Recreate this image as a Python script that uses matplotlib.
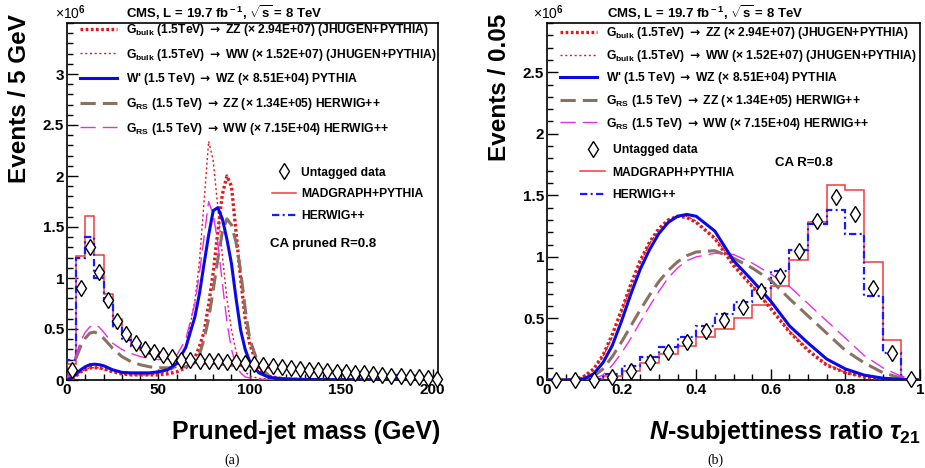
import matplotlib
matplotlib.use("Agg")
import matplotlib.pyplot as plt
from matplotlib.ticker import MultipleLocator, FormatStrFormatter
import numpy as np

plt.rcParams['font.family'] = ['Liberation Sans', 'DejaVu Sans']
plt.rcParams['font.weight'] = 'bold'
plt.rcParams['mathtext.fontset'] = 'custom'
plt.rcParams['mathtext.rm'] = 'Liberation Sans:bold'
plt.rcParams['mathtext.it'] = 'Liberation Sans:italic:bold'
plt.rcParams['mathtext.bf'] = 'Liberation Sans:bold'
plt.rcParams['mathtext.sf'] = 'DejaVu Sans:bold'

# ---- (a) pruned jet mass, 5 GeV bins, units of 1e6 events ----
mass_edges = np.arange(0, 206, 5)
mass_centres = mass_edges[:-1] + 2.5
mass_data = [0.098, 0.905, 1.30, 1.06, 0.78, 0.58, 0.45, 0.366, 0.304, 0.27, 0.25, 0.23,
             0.20, 0.196, 0.19, 0.186, 0.184, 0.18, 0.173, 0.163, 0.157, 0.147, 0.137,
             0.124, 0.114, 0.108, 0.10, 0.095, 0.088, 0.082, 0.075, 0.072, 0.065, 0.056,
             0.052, 0.042, 0.039, 0.029, 0.026, 0.02, 0.013]
mass_madgraph = [0.157, 1.216, 1.61, 1.23, 0.843, 0.595, 0.44, 0.343, 0.29, 0.255, 0.23,
                 0.21, 0.19, 0.175, 0.165, 0.158, 0.152, 0.146, 0.14, 0.134, 0.128, 0.122,
                 0.116, 0.11, 0.104, 0.098, 0.092, 0.087, 0.081, 0.076, 0.071, 0.066,
                 0.061, 0.056, 0.051, 0.046, 0.041, 0.036, 0.031, 0.026, 0.02]
mass_herwig = [0.2, 1.2, 1.40, 1.0, 0.77, 0.51, 0.39, 0.33, 0.29, 0.26, 0.24, 0.22, 0.20,
               0.19, 0.185, 0.18, 0.175, 0.17, 0.165, 0.16, 0.152, 0.144, 0.135, 0.126,
               0.117, 0.109, 0.101, 0.094, 0.087, 0.08, 0.074, 0.068, 0.062, 0.056, 0.05,
               0.045, 0.04, 0.035, 0.03, 0.025, 0.02]

mass_x = [0, 2.5, 5, 7.5, 10, 12.5, 15, 17.5, 20, 25, 30, 35, 40, 45, 50, 55, 60, 65, 70,
          72.5, 75, 77.5, 80, 82.5, 85, 87.5, 90, 92.5, 95, 97.5, 100, 105, 110, 115, 120,
          130, 140, 150, 160, 170, 180, 190, 200]
mass_bulk_zz = [0.0, 0.01, 0.04, 0.08, 0.10, 0.12, 0.12, 0.12, 0.11, 0.08, 0.06, 0.05, 0.05,
                0.05, 0.05, 0.06, 0.08, 0.12, 0.22, 0.33, 0.47, 0.74, 1.05, 1.45, 1.82, 2.0,
                1.90, 1.45, 0.99, 0.60, 0.35, 0.10, 0.04, 0.02, 0.01, 0.005, 0.004, 0.003,
                0.003, 0.002, 0.002, 0.002, 0.002]
mass_bulk_ww = [0.0, 0.01, 0.04, 0.08, 0.10, 0.12, 0.12, 0.12, 0.11, 0.08, 0.06, 0.05, 0.05,
                0.05, 0.06, 0.08, 0.13, 0.32, 0.78, 1.17, 1.75, 2.34, 2.15, 1.70, 1.22, 0.80,
                0.49, 0.28, 0.15, 0.08, 0.04, 0.015, 0.01, 0.005, 0.004, 0.003, 0.003,
                0.002, 0.002, 0.002, 0.002, 0.002, 0.002]
mass_wprime = [0.0, 0.02, 0.06, 0.10, 0.13, 0.15, 0.155, 0.15, 0.14, 0.10, 0.075, 0.07, 0.07,
               0.07, 0.08, 0.10, 0.16, 0.32, 0.62, 0.85, 1.14, 1.42, 1.66, 1.69, 1.58, 1.38,
               1.14, 0.80, 0.49, 0.30, 0.18, 0.07, 0.03, 0.015, 0.01, 0.005, 0.004, 0.003,
               0.003, 0.002, 0.002, 0.002, 0.002]
mass_rs_zz = [0.0, 0.10, 0.22, 0.33, 0.41, 0.46, 0.47, 0.45, 0.41, 0.31, 0.23, 0.18, 0.15,
              0.13, 0.12, 0.12, 0.12, 0.13, 0.17, 0.25, 0.40, 0.60, 0.88, 1.18, 1.45, 1.58,
              1.52, 1.35, 1.07, 0.70, 0.40, 0.14, 0.05, 0.02, 0.01, 0.005, 0.004, 0.003,
              0.003, 0.002, 0.002, 0.002, 0.002]
mass_rs_ww = [0.0, 0.12, 0.25, 0.38, 0.47, 0.52, 0.54, 0.52, 0.47, 0.36, 0.30, 0.26, 0.23,
              0.21, 0.20, 0.21, 0.24, 0.40, 0.75, 1.05, 1.40, 1.75, 1.62, 1.35, 0.95, 0.57,
              0.30, 0.14, 0.07, 0.03, 0.02, 0.01, 0.005, 0.004, 0.003, 0.003, 0.002, 0.002,
              0.002, 0.002, 0.002, 0.002, 0.002]

# ---- (b) tau21, 0.05 bins ----
tau_edges = np.linspace(0, 1, 21)
tau_centres = tau_edges[:-1] + 0.025
tau_data = [0, 0, 0.0, 0.027, 0.076, 0.149, 0.23, 0.31, 0.40, 0.49, 0.59, 0.72, 0.846,
            1.05, 1.295, 1.49, 1.35, 0.75, 0.22, 0.005]
tau_madgraph = [0, 0, 0.005, 0.033, 0.076, 0.14, 0.21, 0.276, 0.35, 0.415, 0.50, 0.61, 0.76,
                0.976, 1.287, 1.585, 1.545, 0.96, 0.325, 0.01]
tau_herwig = [0, 0, 0.005, 0.049, 0.11, 0.185, 0.27, 0.35, 0.44, 0.537, 0.63, 0.745, 0.886,
              1.057, 1.27, 1.38, 1.19, 0.68, 0.22, 0.0]

tau_x = [0, 0.05, 0.075, 0.1, 0.125, 0.15, 0.175, 0.2, 0.225, 0.25, 0.275, 0.3, 0.325, 0.35,
         0.375, 0.4, 0.45, 0.5, 0.55, 0.6, 0.65, 0.7, 0.75, 0.8, 0.85, 0.9, 0.95, 1.0]
tau_bulk_zz = [0, 0, 0.005, 0.03, 0.09, 0.20, 0.37, 0.57, 0.78, 0.97, 1.12, 1.23, 1.30, 1.33,
               1.32, 1.28, 1.15, 0.93, 0.76, 0.58, 0.39, 0.24, 0.12, 0.06, 0.025, 0.01,
               0.003, 0]
tau_bulk_ww = [0, 0, 0.005, 0.025, 0.08, 0.19, 0.35, 0.55, 0.76, 0.95, 1.11, 1.22, 1.30, 1.33,
               1.33, 1.29, 1.16, 0.95, 0.77, 0.59, 0.40, 0.25, 0.13, 0.06, 0.025, 0.01,
               0.003, 0]
tau_wprime = [0, 0, 0.0, 0.01, 0.05, 0.14, 0.28, 0.48, 0.70, 0.90, 1.06, 1.19, 1.28, 1.33,
              1.345, 1.33, 1.21, 0.97, 0.81, 0.64, 0.44, 0.30, 0.17, 0.09, 0.04, 0.015,
              0.005, 0]
tau_rs_zz = [0, 0, 0, 0.005, 0.03, 0.09, 0.19, 0.31, 0.44, 0.57, 0.69, 0.80, 0.89, 0.96,
             1.01, 1.04, 1.05, 0.99, 0.91, 0.81, 0.66, 0.52, 0.38, 0.24, 0.14, 0.06, 0.015, 0]
tau_rs_ww = [0, 0, 0, 0.0, 0.01, 0.04, 0.12, 0.22, 0.34, 0.47, 0.60, 0.72, 0.83, 0.91, 0.97,
             1.0, 1.03, 1.02, 0.95, 0.86, 0.76, 0.62, 0.48, 0.34, 0.20, 0.10, 0.03, 0]

ARROW = r"$\mathsf{\rightarrow}$"
labels = [r"G$_{\rm bulk}$ (1.5TeV) " + ARROW + " ZZ (× 2.94E+07) (JHUGEN+PYTHIA)",
          r"G$_{\rm bulk}$ (1.5TeV) " + ARROW + " WW (× 1.52E+07) (JHUGEN+PYTHIA)",
          "W' (1.5 TeV) " + ARROW + " WZ (× 8.51E+04) PYTHIA",
          r"G$_{\rm RS}$ (1.5 TeV) " + ARROW + " ZZ (× 1.34E+05) HERWIG++",
          r"G$_{\rm RS}$ (1.5 TeV) " + ARROW + " WW (× 7.15E+04) HERWIG++"]

RED = '#e8141a'
BLUE = '#0a0ae6'
BROWN = '#8a7262'
MAGENTA = '#e62ee6'

fig = plt.figure(figsize=(9.25, 4.68), dpi=100)
ax1 = fig.add_axes([67/925, 88/468, 371/925, 357/468])
ax2 = fig.add_axes([547/925, 88/468, 373/925, 357/468])


def draw(ax, edges, centres, data, mad, her, cx, curves):
    ax.stairs(mad, edges, baseline=0, color='#f03a3a', lw=1.1, zorder=3)
    ax.stairs(her, edges, baseline=0, color='#1a1aff', lw=1.6,
              linestyle=(0, (3.3, 1.5, 0.9, 1.5)), zorder=3)
    zz, ww, wp, rz, rw = curves
    h_zz, = ax.plot(cx, zz, color=RED, lw=2.4, linestyle=(0, (0.8, 0.75)), zorder=5)
    h_ww, = ax.plot(cx, ww, color=RED, lw=1.0, linestyle=(0, (1.5, 1.9)), zorder=5)
    h_wp, = ax.plot(cx, wp, color=BLUE, lw=2.2, zorder=6)
    h_rz, = ax.plot(cx, rz, color=BROWN, lw=2.2, linestyle=(0, (5, 2.3)), zorder=5)
    h_rw, = ax.plot(cx, rw, color=MAGENTA, lw=1.0, linestyle=(0, (11, 5)), zorder=5)
    h_d, = ax.plot(centres, data, ls='none', marker='d', ms=8, mfc='white', mec='black',
                   mew=1.0, clip_on=False, zorder=10)
    h_m, = ax.plot([], [], color='#f03a3a', lw=1.1)
    h_h, = ax.plot([], [], color='#1a1aff', lw=1.6, linestyle=(0, (3.3, 1.5, 0.9, 1.5)))
    return [h_zz, h_ww, h_wp, h_rz, h_rw], [h_d, h_m, h_h]


sig1, bkg1 = draw(ax1, mass_edges, mass_centres, mass_data, mass_madgraph, mass_herwig,
                  mass_x, [mass_bulk_zz, mass_bulk_ww, mass_wprime, mass_rs_zz, mass_rs_ww])
sig2, bkg2 = draw(ax2, tau_edges, tau_centres, tau_data, tau_madgraph, tau_herwig,
                  tau_x, [tau_bulk_zz, tau_bulk_ww, tau_wprime, tau_rs_zz, tau_rs_ww])

ax1.set_xlim(0, 203)
ax1.set_ylim(0, 3.5)
ax1.xaxis.set_major_locator(MultipleLocator(50))
ax1.xaxis.set_minor_locator(MultipleLocator(10))
ax1.set_yticks([0, 0.5, 1, 1.5, 2, 2.5, 3])
ax2.set_xlim(0, 1)
ax2.set_ylim(0, 2.9)
ax2.xaxis.set_major_locator(MultipleLocator(0.2))
ax2.xaxis.set_minor_locator(MultipleLocator(0.05))
ax2.yaxis.set_major_locator(MultipleLocator(0.5))
for ax in (ax1, ax2):
    ax.yaxis.set_minor_locator(MultipleLocator(0.1))
    ax.xaxis.set_major_formatter(FormatStrFormatter('%g'))
    ax.yaxis.set_major_formatter(FormatStrFormatter('%g'))
    ax.tick_params(which='both', direction='in', top=False, right=False, width=1.0,
                   labelsize=11, pad=2)
    ax.tick_params(which='major', length=8)
    ax.tick_params(which='minor', length=4)
    for s in ax.spines.values():
        s.set_linewidth(1.2)

leg = ax1.legend(sig1, labels, loc='upper left', bbox_to_anchor=(13/371, 1.003),
                 frameon=False, fontsize=8.7, handlelength=3.1, handletextpad=0.7,
                 labelspacing=0.72, borderpad=0, borderaxespad=0)
ax1.add_artist(leg)
ax1.legend(bkg1, ["Untagged data", "MADGRAPH+PYTHIA", "HERWIG++"], loc='upper left',
           bbox_to_anchor=(205/371, 0.598), frameon=False, fontsize=8.7, numpoints=1,
           handlelength=1.95, handletextpad=0.45, labelspacing=0.8, borderpad=0,
           borderaxespad=0)
leg = ax2.legend(sig2, labels, loc='upper left', bbox_to_anchor=(13/373, 0.994),
                 frameon=False, fontsize=8.7, handlelength=3.1, handletextpad=0.7,
                 labelspacing=0.55, borderpad=0, borderaxespad=0)
ax2.add_artist(leg)
ax2.legend(bkg2, ["Untagged data", "MADGRAPH+PYTHIA", "HERWIG++"], loc='upper left',
           bbox_to_anchor=(33/373, 0.66), frameon=False, fontsize=8.7, numpoints=1,
           handlelength=2.1, handletextpad=0.6, labelspacing=0.85, borderpad=0,
           borderaxespad=0)

ax1.text(203/371, 0.381, "CA pruned R=0.8", transform=ax1.transAxes, fontsize=9.5,
         va='center')
ax2.text(228/373, 0.608, "CA R=0.8", transform=ax2.transAxes, fontsize=9.5, va='center')

title = r"CMS, L = 19.7 fb$^{\rm -1}$, $\sqrt{\rm s}$ = 8 TeV"
fig.text(126/925, 1 - 13/468, title, fontsize=9.5, va='center')
fig.text(607/925, 1 - 13/468, title, fontsize=9.5, va='center')
fig.text(55/925, 1 - 13/468, r"×10$^{\rm 6}$", fontsize=10, va='center', weight='normal')
fig.text(533/925, 1 - 13/468, r"×10$^{\rm 6}$", fontsize=10, va='center', weight='normal')

fig.text(20/925, 1 - 14/468, "Events / 5 GeV", rotation=90, ha='center', va='top',
         fontsize=17.5)
fig.text(500/925, 1 - 14/468, "Events / 0.05", rotation=90, ha='center', va='top',
         fontsize=17.5)
fig.text(440/925, 1 - 432/468, "Pruned-jet mass (GeV)", ha='right', va='center',
         fontsize=18)
fig.text(921/925, 1 - 432/468, r"$\it{N}$-subjettiness ratio $\tau_{\rm 21}$",
         ha='right', va='center', fontsize=18)
fig.text(232/925, 1 - 460/468, "(a)", ha='center', va='center', fontsize=10,
         family='Liberation Serif', weight='normal')
fig.text(715/925, 1 - 460/468, "(b)", ha='center', va='center', fontsize=10,
         family='Liberation Serif', weight='normal')

fig.savefig("out.png", dpi=100)
